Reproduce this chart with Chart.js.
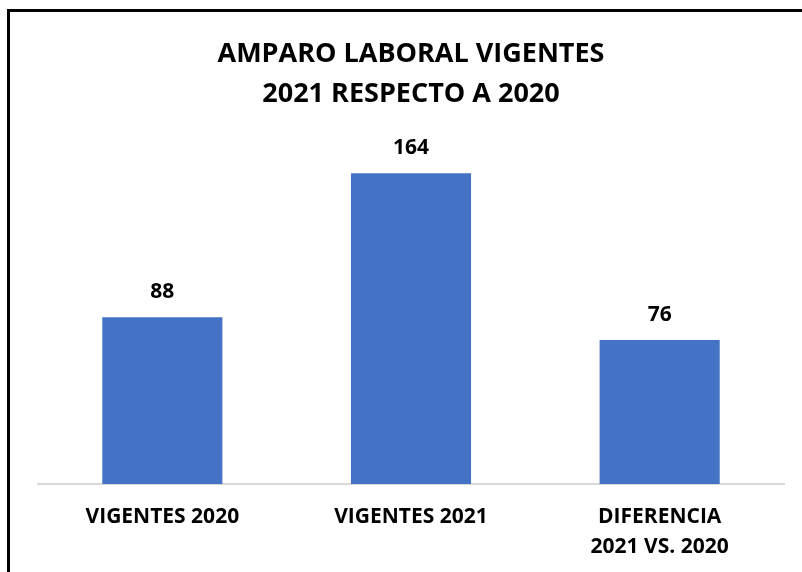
<!DOCTYPE html>
<html><head><meta charset="utf-8">
<script src="https://cdn.jsdelivr.net/npm/chart.js@4/dist/chart.umd.min.js"></script>
<style>
html,body{margin:0;padding:0;background:#fff;}
#wrap{position:relative;width:802px;height:572px;overflow:hidden;}
#frame{position:absolute;left:7px;top:9px;right:-10px;bottom:-10px;border-left:3px solid #000;border-top:3px solid #000;}
canvas{position:absolute;left:0;top:0;}
</style></head>
<body>
<div id="wrap"><div id="frame"></div><canvas id="c" width="802" height="572"></canvas></div>
<script>
const categories = [["VIGENTES 2020"], ["VIGENTES 2021"], ["DIFERENCIA", "2021 VS. 2020"]];
const values = [88, 164, 76];
const titleLines = ["AMPARO LABORAL VIGENTES", "2021 RESPECTO A 2020"];

const FONT = "'Open Sans', 'Liberation Sans', sans-serif";

const labelPlugin = {
  id: 'valueLabels',
  afterDatasetsDraw(chart) {
    const ctx = chart.ctx;
    const meta = chart.getDatasetMeta(0);
    ctx.save();
    ctx.font = "bold 21px " + FONT;
    ctx.fillStyle = "#000";
    ctx.textAlign = "center";
    ctx.textBaseline = "middle";
    meta.data.forEach((bar, i) => {
      ctx.fillText(String(values[i]), bar.x, bar.y - 25);
    });
    ctx.restore();
  }
};

new Chart(document.getElementById('c'), {
  type: 'bar',
  data: {
    labels: categories,
    datasets: [{
      data: values,
      backgroundColor: '#4472C4',
      borderWidth: 0,
      categoryPercentage: 1,
      barPercentage: 0.483
    }]
  },
  options: {
    responsive: false,
    animation: false,
    layout: { padding: { left: 38, right: 18, top: 34, bottom: -8 } },
    plugins: {
      legend: { display: false },
      tooltip: { enabled: false },
      title: {
        display: true,
        text: titleLines,
        color: '#000',
        font: { family: FONT, size: 27, weight: 'bold', lineHeight: 1.48 },
        padding: { top: 0, bottom: 10 }
      }
    },
    scales: {
      x: {
        grid: { display: false, drawTicks: false },
        border: { display: true, color: '#d9d9d9', width: 2 },
        ticks: { color: '#000', font: { family: FONT, size: 21, weight: 'bold', lineHeight: 1.43 }, padding: 18, maxRotation: 0 }
      },
      y: {
        display: false,
        min: 0,
        max: 190
      }
    }
  },
  plugins: [labelPlugin]
});
</script>
</body></html>
